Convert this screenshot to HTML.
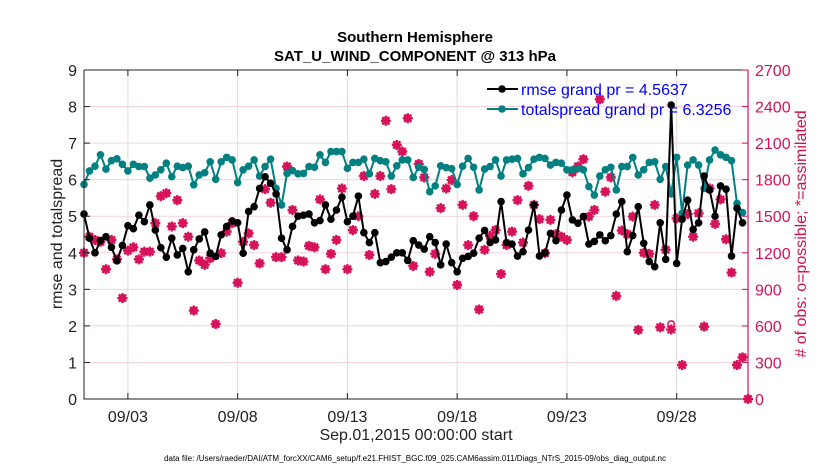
<!DOCTYPE html>
<html><head><meta charset="utf-8"><style>
body{margin:0;background:#fff;}
svg{display:block;font-family:"Liberation Sans",Arial,sans-serif;}
</style></head><body>
<svg id="chart" width="830" height="470" viewBox="0 0 830 470" xmlns="http://www.w3.org/2000/svg">
<rect width="830" height="470" fill="#fff"/>
<g id="grid"></g>
<g id="series"></g>
<g id="axes"></g>
<text x="415" y="42" text-anchor="middle" font-size="15" font-weight="bold">Southern Hemisphere</text>
<text x="415" y="61" text-anchor="middle" font-size="15" font-weight="bold">SAT_U_WIND_COMPONENT @ 313 hPa</text>
<text transform="translate(62,234) rotate(-90)" text-anchor="middle" font-size="16" fill="#222">rmse and totalspread</text>
<text transform="translate(806,234) rotate(-90)" text-anchor="middle" font-size="16" fill="#d0104c"># of obs: o=possible; *=assimilated</text>
<text x="416" y="440" text-anchor="middle" font-size="16" fill="#222">Sep.01,2015 00:00:00 start</text>
<text x="415" y="461" text-anchor="middle" font-size="8" fill="#000">data file: /Users/raeder/DAI/ATM_forcXX/CAM6_setup/f.e21.FHIST_BGC.f09_025.CAM6assim.011/Diags_NTrS_2015-09/obs_diag_output.nc</text>
<g>
<line x1="487" y1="89" x2="518" y2="89" stroke="#000" stroke-width="2"/><circle cx="502" cy="89" r="3.8" fill="#000"/>
<text x="521" y="95" font-size="16" fill="#0000ff">rmse grand pr = 4.5637</text>
<line x1="487" y1="109" x2="518" y2="109" stroke="#008080" stroke-width="2"/><circle cx="502" cy="109" r="3.8" fill="#008080"/>
<text x="521" y="115" font-size="16" fill="#0000ff">totalspread grand pr = 6.3256</text>
</g>
</svg>
<script>
const rmse=[5.06,4.40,4.0,4.33,4.44,4.15,3.78,4.2,4.74,4.66,5.03,4.85,5.31,4.62,4.14,3.88,4.4,3.94,4.12,3.48,4.08,4.38,4.57,3.99,3.9,4.49,4.72,4.87,4.82,3.99,5.13,
5.26,5.76,6.08,5.9,5.61,4.4,4.08,4.72,5.0,5.03,5.06,4.82,4.88,5.31,4.92,5.17,5.52,4.85,5.0,5.55,4.55,4.28,4.55,3.73,3.76,3.88,4.0,4.0,3.79,
4.33,4.21,4.1,4.44,4.28,3.67,4.24,3.73,3.48,3.85,3.9,3.99,4.4,4.61,4.28,4.35,5.4,4.28,4.24,3.91,4.03,4.62,5.31,3.91,4.0,4.53,4.33,5.17,5.58,
4.9,4.81,4.99,4.24,4.31,4.49,4.33,4.47,5.06,5.4,4.03,4.47,5.26,4.26,3.76,3.62,4.82,3.82,8.04,3.71,4.92,5.44,4.64,4.82,6.1,5.72,5.0,5.83,5.74,3.91,5.22,4.82];
const spread=[5.87,6.24,6.37,6.68,6.29,6.52,6.57,6.42,6.24,6.42,6.36,6.36,6.04,6.13,6.27,6.45,6.08,6.37,6.33,6.37,5.86,6.13,6.19,6.49,6.01,6.49,6.61,6.54,5.92,6.27,6.37,
6.54,6.1,6.36,6.56,5.76,5.31,6.17,6.25,6.16,6.17,6.36,6.34,6.68,6.47,6.77,6.77,6.77,6.31,6.47,6.47,6.56,6.16,6.58,6.52,6.49,6.1,6.38,6.54,6.54,
6.06,6.34,6.28,5.67,5.83,6.38,6.33,6.3,5.87,6.37,6.58,6.34,5.72,6.29,6.36,6.54,6.1,6.54,6.56,6.58,6.16,6.33,6.56,6.61,6.58,6.4,6.47,6.45,6.27,
6.27,6.3,6.27,5.81,5.58,6.1,6.27,6.34,5.72,6.36,6.36,6.61,6.13,6.27,6.47,6.49,6.01,6.36,5.61,6.61,5.08,6.4,6.54,6.4,5.76,6.54,6.81,6.68,6.61,6.52,5.35,5.1];
const obsUsed=[1200,1332,1305,1290,1065,1305,1146,828,1218,1245,1146,1209,1209,1443,1665,1689,1416,1632,1443,1332,726,1137,1101,1155,615,1197,1374,1443,954,1290,1359,
1263,1113,1722,1611,1164,1164,1908,1551,1137,1128,1257,1245,1638,1065,1191,1305,1728,1065,1386,1500,1830,1182,1683,1830,2283,1722,2085,2031,2304,
1092,1929,1818,1044,1191,1566,1728,1797,936,1593,1263,1500,735,1224,1338,1386,1026,1263,1374,1632,1284,1749,1593,1476,1197,1470,1353,1332,1305,
1860,1908,1968,1497,1551,2460,1701,1818,846,1383,1353,1497,567,1200,1191,1593,588,1224,570,1482,279,1518,1332,1524,594,1728,1437,1638,1311,1038,279,342,0];
const obsPoss=obsUsed.map((v,i)=>i===107?615:v);
const xTickLabels=["09/03","09/08","09/13","09/18","09/23","09/28"];
const xTickHours=[48,168,288,408,528,648];
const yTicks=[0,1,2,3,4,5,6,7,8,9];
const y2Ticks=[0,300,600,900,1200,1500,1800,2100,2400,2700];

const NS='http://www.w3.org/2000/svg';
const L=84,R=748,T=70,B=399;
const x=h=>L+h*(R-L)/726;
const y=v=>B-v*(B-T)/9;
const y2=v=>B-v*(B-T)/2700;
function mk(tag,attrs,parent){const e=document.createElementNS(NS,tag);for(const k in attrs)e.setAttribute(k,attrs[k]);parent.appendChild(e);return e;}
const grid=document.getElementById('grid'),ser=document.getElementById('series'),ax=document.getElementById('axes');
yTicks.forEach(v=>{if(v>0&&v<9){const g=mk('line',{x1:L,x2:R,y1:y(v),y2:y(v),stroke:'#f4d2de','stroke-width':1},grid);

}});
xTickHours.forEach((h,i)=>{const g=mk('line',{x1:x(h),x2:x(h),y1:T,y2:B,stroke:'#dcdcdc','stroke-width':1},grid);


const tk=mk('line',{x1:x(h),x2:x(h),y1:B,y2:B-6,stroke:'#222','stroke-width':1},ax);


const tk2=mk('line',{x1:x(h),x2:x(h),y1:T,y2:T+6,stroke:'#222','stroke-width':1},ax);


const t=mk('text',{x:x(h),y:B+23,'text-anchor':'middle','font-size':16,fill:'#222'},ax);t.textContent=xTickLabels[i];

});
function line(vals,color,name){const pts=vals.map((v,i)=>x(i*6).toFixed(1)+','+y(v).toFixed(1)).join(' ');
const p=mk('polyline',{points:pts,fill:'none',stroke:color,'stroke-width':2,'stroke-linejoin':'round'},ser);


vals.forEach((v,i)=>{const c=mk('circle',{cx:x(i*6),cy:y(v),r:3.8,fill:color},ser);

});}
const pc='#d6135a';
obsPoss.forEach((v,i)=>{const c=mk('circle',{cx:x(i*6),cy:y2(v),r:3.2,fill:'none',stroke:pc,'stroke-width':1.5},ser);

});
obsUsed.forEach((v,i)=>{const cx=x(i*6),cy=y2(v),s=5,d=3.6;
const p=mk('path',{d:`M${cx-s} ${cy}H${cx+s}M${cx} ${cy-s}V${cy+s}M${cx-d} ${cy-d}L${cx+d} ${cy+d}M${cx-d} ${cy+d}L${cx+d} ${cy-d}`,stroke:pc,'stroke-width':2.4,fill:'none'},ser);

});
line(spread,'#008080','totalspread');
line(rmse,'#000','rmse');
const fr=mk('path',{d:`M${L} ${T}H${R}M${L} ${T}V${B}H${R}`,stroke:'#222',fill:'none','stroke-width':1},ax);


const ra=mk('line',{x1:R,x2:R,y1:T,y2:B,stroke:pc,'stroke-width':1.2},ax);


yTicks.forEach(v=>{const t=mk('text',{x:77,y:y(v)+6,'text-anchor':'end','font-size':16,fill:'#222'},ax);t.textContent=v;


const tk=mk('line',{x1:L,x2:L+6,y1:y(v),y2:y(v),stroke:'#222'},ax);

});
y2Ticks.forEach(v=>{const t=mk('text',{x:755,y:y2(v)+6,'font-size':16,fill:pc},ax);t.textContent=v;


const tk=mk('line',{x1:R-6,x2:R,y1:y2(v),y2:y2(v),stroke:pc},ax);

});
</script>
</body></html>
